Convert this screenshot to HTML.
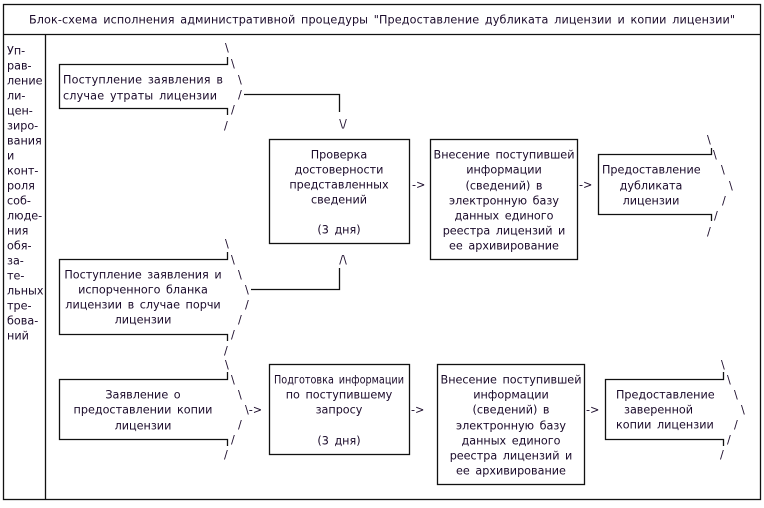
<!DOCTYPE html>
<html><head><meta charset="utf-8"><style>
html,body{margin:0;padding:0;background:#fff;width:764px;height:508px;overflow:hidden}
svg text{font-family:"DejaVu Sans","Liberation Sans",sans-serif;font-size:11.2px;word-spacing:2px;fill:#1a0a2a;dominant-baseline:central}
</style></head><body>
<svg width="764" height="508" viewBox="0 0 764 508" xmlns="http://www.w3.org/2000/svg">
<g fill="none" stroke="#111" stroke-width="1.3">
<rect x="3.5" y="4.5" width="757" height="495"/>
<line x1="3" y1="34.5" x2="761" y2="34.5"/>
<line x1="45.5" y1="34" x2="45.5" y2="499"/>
<polyline points="227.5,57 227.5,64.5 59.5,64.5 59.5,108.5 227.5,108.5 227.5,115"/>
<polyline points="244,94.5 339.5,94.5 339.5,112"/>
<rect x="269.5" y="139.5" width="140" height="104"/>
<rect x="430.5" y="139.5" width="147" height="120"/>
<polyline points="711.5,148 711.5,154.5 598.5,154.5 598.5,214.5 711.5,214.5 711.5,221"/>
<polyline points="227.5,252 227.5,259.5 59.5,259.5 59.5,334.5 227.5,334.5 227.5,341"/>
<polyline points="251,289.5 339.5,289.5 339.5,268"/>
<polyline points="227.5,372 227.5,379.5 59.5,379.5 59.5,439.5 227.5,439.5 227.5,446"/>
<rect x="269.5" y="364.5" width="140" height="90"/>
<rect x="437.5" y="364.5" width="147" height="120"/>
<polyline points="723.5,372 723.5,379.5 605.5,379.5 605.5,439.5 723.5,439.5 723.5,446"/>
</g>
<text x="29" y="20" textLength="706" lengthAdjust="spacing">Блок-схема исполнения административной процедуры "Предоставление дубликата лицензии и копии лицензии"</text>
<g>
<text x="7" y="51">Уп-</text><text x="7" y="66">рав-</text><text x="7" y="81">ление</text><text x="7" y="96">ли-</text><text x="7" y="111">цен-</text><text x="7" y="126">зиро-</text><text x="7" y="141">вания</text><text x="7" y="156">и</text><text x="7" y="171">конт-</text><text x="7" y="186">роля</text><text x="7" y="201">соб-</text><text x="7" y="216">люде-</text><text x="7" y="231">ния</text><text x="7" y="246">обя-</text><text x="7" y="261">за-</text><text x="7" y="276">те-</text><text x="7" y="291">льных</text><text x="7" y="306">тре-</text><text x="7" y="321">бова-</text><text x="7" y="336">ний</text>
</g>
<text x="63" y="80" textLength="160" lengthAdjust="spacing">Поступление заявления в</text>
<text x="63" y="96" textLength="154" lengthAdjust="spacing">случае утраты лицензии</text>
<text x="225" y="48">\</text><text x="231" y="64">\</text><text x="238" y="80">\</text><text x="238" y="95">/</text><text x="231" y="110">/</text><text x="224" y="126">/</text>
<text x="343" y="124" text-anchor="middle">\/</text>
<g text-anchor="middle">
<text x="339" y="155">Проверка</text><text x="339" y="170">достоверности</text><text x="339" y="185">представленных</text><text x="339" y="200">сведений</text><text x="339" y="230">(3 дня)</text>
<text x="504" y="155">Внесение поступившей</text><text x="504" y="170">информации</text><text x="504" y="186">(сведений) в</text><text x="504" y="201">электронную базу</text><text x="504" y="216">данных единого</text><text x="504" y="231">реестра лицензий и</text><text x="504" y="246">ее архивирование</text>
<text x="651" y="186">дубликата</text><text x="651" y="201">лицензии</text>
</g>
<text x="412" y="185">-&gt;</text><text x="579" y="185">-&gt;</text>
<text x="602" y="170">Предоставление</text>
<text x="707" y="140">\</text><text x="713" y="155">\</text><text x="721" y="170">\</text><text x="729" y="186">\</text><text x="722" y="201">/</text><text x="714" y="216">/</text><text x="707" y="232">/</text>
<g text-anchor="middle">
<text x="143" y="275">Поступление заявления и</text><text x="143" y="290">испорченного бланка</text><text x="143" y="305">лицензии в случае порчи</text><text x="143" y="320">лицензии</text>
</g>
<text x="225" y="244">\</text><text x="231" y="260">\</text><text x="238" y="275">\</text><text x="245" y="290">\</text><text x="245" y="305">/</text><text x="238" y="320">/</text><text x="231" y="335">/</text><text x="224" y="351">/</text>
<text x="343" y="260" text-anchor="middle">/\</text>
<text x="274" y="380" textLength="130" lengthAdjust="spacingAndGlyphs">Подготовка информации</text>
<g text-anchor="middle">
<text x="143" y="395">Заявление о</text><text x="143" y="410">предоставлении копии</text><text x="143" y="426">лицензии</text>
<text x="339" y="395">по поступившему</text><text x="339" y="410">запросу</text><text x="339" y="441">(3 дня)</text>
<text x="511" y="380">Внесение поступившей</text><text x="511" y="395">информации</text><text x="511" y="410">(сведений) в</text><text x="511" y="426">электронную базу</text><text x="511" y="441">данных единого</text><text x="511" y="456">реестра лицензий и</text><text x="511" y="471">ее архивирование</text>
</g>
<text x="225" y="365">\</text><text x="231" y="380">\</text><text x="238" y="395">\</text><text x="245" y="410">\-&gt;</text><text x="238" y="425">/</text><text x="231" y="440">/</text><text x="224" y="455">/</text>
<text x="411" y="410">-&gt;</text><text x="586" y="410">-&gt;</text>
<text x="616" y="395">Предоставление</text><text x="624" y="410">заверенной</text><text x="616" y="425">копии лицензии</text>
<text x="721" y="365">\</text><text x="727" y="380">\</text><text x="734" y="395">\</text><text x="741" y="410">\</text><text x="734" y="425">/</text><text x="727" y="440">/</text><text x="720" y="455">/</text>
</svg>
</body></html>
